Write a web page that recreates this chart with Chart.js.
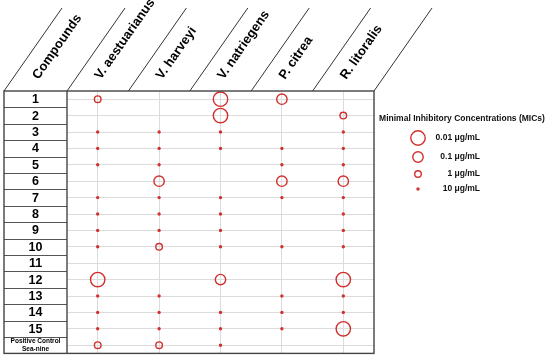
<!DOCTYPE html>
<html>
<head>
<meta charset="utf-8">
<script src="https://cdn.jsdelivr.net/npm/chart.js@4.4.1/dist/chart.umd.min.js"></script>
<style>
  body { margin: 0; background: #fff; }
  #wrap { width: 550px; height: 362px; position: relative; }
</style>
</head>
<body>
<div id="wrap"><canvas id="micChart"></canvas></div>
<script>
// Table rows and columns
const compounds = ['1', '2', '3', '4', '5', '6', '7', '8', '9', '10', '11', '12', '13', '14', '15', 'Positive Control\nSea-nine'];
const species = ['V. aestuarianus', 'V. harveyi', 'V. natriegens', 'P. citrea', 'R. litoralis'];
const firstHeader = 'Compounds';

// MIC values in µg/mL per compound (null = no activity)
const micAestuarianus = [1, null, 10, 10, 10, null, 10, 10, 10, 10, null, 0.01, 10, 10, 10, 1];
const micHarveyi      = [null, null, 10, 10, 10, 0.1, 10, 10, 10, 1, null, null, 10, 10, 10, 1];
const micNatriegens   = [0.01, 0.01, 10, 10, null, null, 10, 10, 10, 10, null, 0.1, null, 10, 10, 10];
const micCitrea       = [0.1, null, null, 10, 10, 0.1, 10, null, null, 10, null, null, 10, 10, 10, null];
const micLitoralis    = [null, 1, 10, 10, 10, 0.1, 10, 10, 10, 10, null, 0.01, 10, 10, 0.01, null];

// Legend
const legendTitle = 'Minimal Inhibitory Concentrations (MICs)';
const micLevels = [0.01, 0.1, 1, 10];
const micLabels = ['0.01 μg/mL', '0.1 μg/mL', '1 μg/mL', '10 μg/mL'];

const allMics = [micAestuarianus, micHarveyi, micNatriegens, micCitrea, micLitoralis];

const RED = '#d0302e';
const FONT = "'Liberation Sans', Arial, sans-serif";

// radius for each MIC level (bigger circle = lower MIC)
function micRadius(mic) {
    if (mic <= 0.01) return 7.2;
    if (mic <= 0.1) return 5.2;
    if (mic <= 1) return 3.3;
    return 1.1;
}

const datasets = allMics.map((arr, col) => ({
    label: species[col],
    data: arr.map((mic, row) => mic === null ? null : { x: col, y: row, mic: mic }).filter(p => p),
    pointRadius: ctx => micRadius(ctx.raw.mic),
    pointBackgroundColor: ctx => ctx.raw.mic >= 10 ? RED : 'rgba(0,0,0,0)',
    pointBorderColor: RED,
    pointBorderWidth: ctx => ctx.raw.mic >= 10 ? 1.2 : 1.4
}));

// Draws the table frame, header, row labels and legend
const tablePlugin = {
    id: 'tablePlugin',
    afterDraw(chart) {
        const ctx = chart.ctx;
        const area = chart.chartArea;
        const xs = chart.scales.x;
        const ys = chart.scales.y;
        const left = 4;
        const colW = area.left - left;
        const top = area.top, bottom = area.bottom;
        const headTop = 8;
        const shift = 58;

        ctx.save();

        // header diagonals
        const bases = [left, area.left];
        for (let i = 0; i < species.length - 1; i++) bases.push(xs.getPixelForValue(i + 0.5));
        bases.push(area.right);
        ctx.strokeStyle = '#333';
        ctx.lineWidth = 1;
        bases.forEach(bx => {
            ctx.beginPath();
            ctx.moveTo(bx, top);
            ctx.lineTo(bx + shift, headTop);
            ctx.stroke();
        });

        // header labels
        const angle = -Math.atan2(top - headTop, shift);
        ctx.fillStyle = '#000';
        ctx.font = 'bold 13px ' + FONT;
        ctx.textAlign = 'left';
        ctx.textBaseline = 'alphabetic';
        const heads = [firstHeader].concat(species);
        const centers = [left + colW / 2].concat(species.map((s, i) => xs.getPixelForValue(i)));
        heads.forEach((h, i) => {
            ctx.save();
            ctx.translate(centers[i] + 3, top - 11);
            ctx.rotate(angle);
            ctx.fillText(h, 0, 0);
            ctx.restore();
        });

        // row label cells
        const rowH = (bottom - top) / compounds.length;
        ctx.strokeStyle = '#555';
        ctx.lineWidth = 1;
        for (let i = 1; i < compounds.length; i++) {
            const y = Math.round(top + i * rowH) + 0.5;
            ctx.beginPath();
            ctx.moveTo(left, y);
            ctx.lineTo(area.left, y);
            ctx.stroke();
        }
        ctx.textAlign = 'center';
        ctx.textBaseline = 'middle';
        compounds.forEach((c, i) => {
            const cy = ys.getPixelForValue(i);
            const lines = c.split('\n');
            if (lines.length > 1) {
                ctx.font = 'bold 6.5px ' + FONT;
                ctx.fillText(lines[0], left + colW / 2, cy - 3.6);
                ctx.fillText(lines[1], left + colW / 2, cy + 3.8);
            } else {
                ctx.font = 'bold 12.5px ' + FONT;
                ctx.fillText(c, left + colW / 2, cy + 0.5);
            }
        });

        // outer frame
        ctx.strokeStyle = '#444';
        ctx.lineWidth = 1.4;
        ctx.strokeRect(left, top, area.right - left, bottom - top);
        ctx.beginPath();
        ctx.moveTo(area.left, top);
        ctx.lineTo(area.left, bottom);
        ctx.stroke();

        // legend
        ctx.fillStyle = '#111';
        ctx.font = 'bold 8.5px ' + FONT;
        ctx.textAlign = 'center';
        ctx.fillText(legendTitle, 462, 119);
        const legY = [138, 157, 174, 189];
        micLevels.forEach((m, i) => {
            const r = micRadius(m);
            ctx.beginPath();
            ctx.arc(418, legY[i], r, 0, Math.PI * 2);
            ctx.strokeStyle = RED;
            ctx.lineWidth = m >= 10 ? 1.2 : 1.4;
            if (m >= 10) { ctx.fillStyle = RED; ctx.fill(); }
            ctx.stroke();
            ctx.fillStyle = '#111';
            ctx.textAlign = 'right';
            ctx.fillText(micLabels[i], 480, legY[i]);
        });

        ctx.restore();
    }
};

new Chart(document.getElementById('micChart'), {
    type: 'scatter',
    data: { datasets: datasets },
    options: {
        responsive: true,
        maintainAspectRatio: false,
        animation: false,
        layout: { padding: { left: 67, right: 176, top: 91, bottom: 6 } },
        plugins: { legend: { display: false }, tooltip: { enabled: false } },
        scales: {
            x: {
                type: 'linear', min: -0.5, max: 4.5,
                afterBuildTicks: axis => { axis.ticks = species.map((s, i) => ({ value: i })); },
                ticks: { display: false },
                grid: { color: '#dcdcdc', lineWidth: 1, drawTicks: false },
                border: { display: false }
            },
            y: {
                type: 'linear', min: -0.5, max: compounds.length - 0.5, reverse: true,
                afterBuildTicks: axis => { axis.ticks = compounds.map((c, i) => ({ value: i })); },
                ticks: { display: false },
                grid: { color: '#dcdcdc', lineWidth: 1, drawTicks: false },
                border: { display: false }
            }
        }
    },
    plugins: [tablePlugin]
});
</script>
</body>
</html>
